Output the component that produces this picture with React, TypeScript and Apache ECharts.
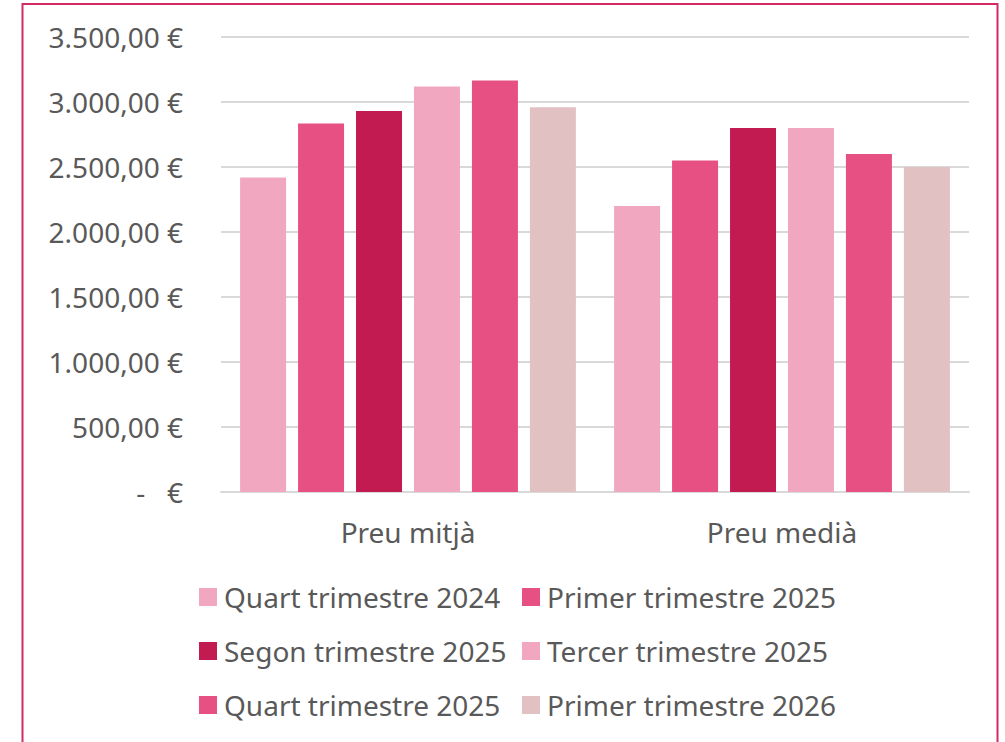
import React, { useEffect, useRef } from "react";
import * as echarts from "echarts";

const categories = ["Preu mitjà", "Preu medià"];
const seriesNames = [
  "Quart trimestre 2024",
  "Primer trimestre 2025",
  "Segon trimestre 2025",
  "Tercer trimestre 2025",
  "Quart trimestre 2025",
  "Primer trimestre 2026",
];
const q4_2024 = [2420, 2200];
const q1_2025 = [2835, 2550];
const q2_2025 = [2930, 2800];
const q3_2025 = [3120, 2800];
const q4_2025 = [3165, 2600];
const q1_2026 = [2960, 2500];
const seriesValues = [q4_2024, q1_2025, q2_2025, q3_2025, q4_2025, q1_2026];
const seriesColors = ["#F2A7C1", "#E75083", "#C11B51", "#F2A7C1", "#E75083", "#E2C1C3"];

const FONT = "'Noto Sans', sans-serif";
const TEXT = "#595959";
const FS = 28;

function fmtEuro(v: number): string {
  if (v === 0) return "-   €";
  const fixed = v.toFixed(2);
  const [intPart, dec] = fixed.split(".");
  const withDots = intPart.replace(/\B(?=(\d{3})+(?!\d))/g, ".");
  return withDots + "," + dec + " €";
}

export default function App() {
  const ref = useRef<HTMLDivElement>(null);
  useEffect(() => {
    if (!ref.current) return;
    const chart = echarts.init(ref.current, undefined, { renderer: "svg" });
    const legendPos = [
      { left: 199, top: 583 },
      { left: 522, top: 583 },
      { left: 199, top: 637 },
      { left: 522, top: 637 },
      { left: 199, top: 691 },
      { left: 522, top: 691 },
    ];
    chart.setOption({
      animation: false,
      backgroundColor: "#ffffff",
      grid: { left: 221, right: 36, top: 37, bottom: 250, containLabel: false },
      xAxis: {
        type: "category",
        data: categories,
        axisLine: { show: true, lineStyle: { color: "#D9D9D9", width: 2 } },
        axisTick: { show: false },
        axisLabel: { color: TEXT, fontSize: FS, fontFamily: FONT, margin: 26 },
      },
      yAxis: {
        type: "value",
        min: 0,
        max: 3500,
        interval: 500,
        axisLine: { show: false },
        axisTick: { show: false },
        splitLine: { lineStyle: { color: "#D9D9D9", width: 2 } },
        axisLabel: {
          color: TEXT,
          fontSize: FS,
          fontFamily: FONT,
          margin: 38,
          formatter: (v: number) => fmtEuro(v),
        },
      },
      legend: seriesNames.map((name, i) => ({
        data: [name],
        left: legendPos[i].left,
        top: legendPos[i].top,
        padding: 0,
        itemWidth: 18,
        itemHeight: 18,
        itemGap: 0,
        icon: "rect",
        selectedMode: false,
        textStyle: { color: TEXT, fontSize: FS, fontFamily: FONT, padding: [0, 0, 0, 2] },
      })),
      series: seriesNames.map((name, i) => ({
        name,
        type: "bar",
        data: seriesValues[i],
        barWidth: 46,
        barGap: "26%",
        itemStyle: { color: seriesColors[i] },
      })),
      graphic: [
        {
          type: "rect",
          shape: { x: 22.5, y: 4, width: 975, height: 800 },
          style: { fill: "none", stroke: "#D42A63", lineWidth: 2 },
          silent: true,
        },
      ],
    });
    return () => chart.dispose();
  }, []);
  return (
    <div
      ref={ref}
      style={{ position: "fixed", left: 0, top: 0, width: 1005, height: 742 }}
    />
  );
}
